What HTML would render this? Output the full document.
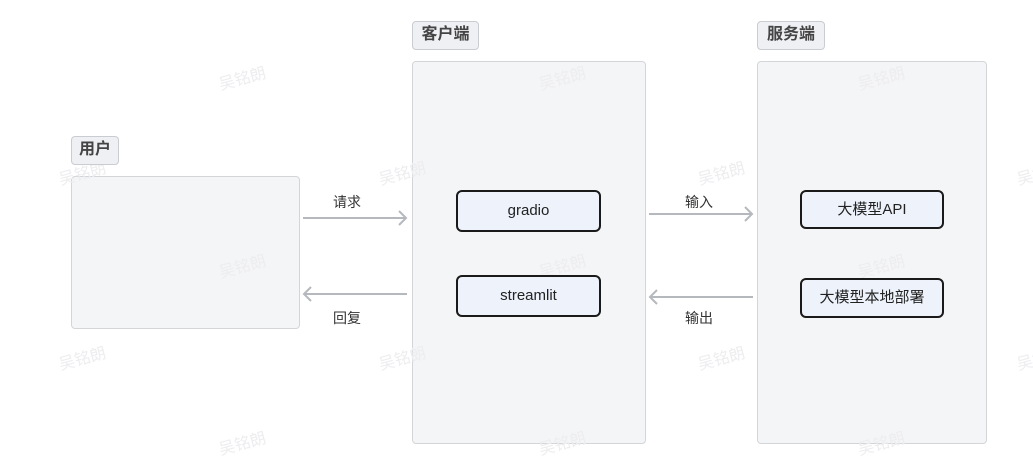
<!DOCTYPE html>
<html><head><meta charset="utf-8"><style>
body{margin:0;width:1033px;height:469px;background:#fff;position:relative;overflow:hidden;font-family:"Liberation Sans","Noto Sans CJK SC",sans-serif}
.abs{position:absolute;box-sizing:border-box}
.tag{background:#eef0f3;border:1.5px solid #c9ccd1;border-radius:4px;font-weight:bold;color:#444;font-size:16px;text-align:center;line-height:25px}
.grp{background:#f4f5f7;border:1.5px solid #d3d5d9;border-radius:4px}
.node{background:#eef2fb;border:2px solid #1a1a1a;border-radius:6px;text-align:center;font-size:15px;color:#222}
.lbl{font-size:14px;color:#333}
.wm{position:absolute;color:#ededf0;font-size:16px;transform:rotate(-15deg);white-space:nowrap}
</style></head><body>
<div class="abs grp" style="left:71px;top:176px;width:229px;height:153px"></div>
<div class="abs grp" style="left:412px;top:61px;width:234px;height:383px"></div>
<div class="abs grp" style="left:757px;top:61px;width:230px;height:383px"></div>
<div class="wm" style="left:218px;top:65px">吴铭朗</div>
<div class="wm" style="left:58px;top:160px">吴铭朗</div>
<div class="wm" style="left:218px;top:253px">吴铭朗</div>
<div class="wm" style="left:58px;top:345px">吴铭朗</div>
<div class="wm" style="left:218px;top:430px">吴铭朗</div>
<div class="wm" style="left:378px;top:160px">吴铭朗</div>
<div class="wm" style="left:378px;top:345px">吴铭朗</div>
<div class="wm" style="left:538px;top:65px">吴铭朗</div>
<div class="wm" style="left:538px;top:253px">吴铭朗</div>
<div class="wm" style="left:538px;top:430px">吴铭朗</div>
<div class="wm" style="left:697px;top:160px">吴铭朗</div>
<div class="wm" style="left:697px;top:345px">吴铭朗</div>
<div class="wm" style="left:857px;top:65px">吴铭朗</div>
<div class="wm" style="left:857px;top:253px">吴铭朗</div>
<div class="wm" style="left:857px;top:430px">吴铭朗</div>
<div class="wm" style="left:1016px;top:160px">吴铭朗</div>
<div class="wm" style="left:1016px;top:345px">吴铭朗</div>
<div class="abs tag" style="left:71px;top:136px;width:48px;height:29px">用户</div>
<div class="abs tag" style="left:412px;top:21px;width:67px;height:29px">客户端</div>
<div class="abs tag" style="left:757px;top:21px;width:68px;height:29px">服务端</div>
<div class="abs node" style="left:456px;top:190px;width:145px;height:42px;line-height:38px">gradio</div>
<div class="abs node" style="left:456px;top:275px;width:145px;height:42px;line-height:38px">streamlit</div>
<div class="abs node" style="left:800px;top:190px;width:144px;height:39px;line-height:35px">大模型API</div>
<div class="abs node" style="left:800px;top:278px;width:144px;height:40px;line-height:36px">大模型本地部署</div>
<svg class="abs" style="left:0;top:0" width="1033" height="469">
<g stroke="#b5b8bd" stroke-width="2" fill="none">
<line x1="303" y1="218" x2="406" y2="218"/><polyline points="399,211 406,218 399,225"/>
<line x1="304" y1="294" x2="407" y2="294"/><polyline points="311,287 304,294 311,301"/>
<line x1="649" y1="214" x2="752" y2="214"/><polyline points="745,207 752,214 745,221"/>
<line x1="650" y1="297" x2="753" y2="297"/><polyline points="657,290 650,297 657,304"/>
</g></svg>
<div class="abs lbl" style="left:333px;top:192px">请求</div>
<div class="abs lbl" style="left:333px;top:308px">回复</div>
<div class="abs lbl" style="left:685px;top:192px">输入</div>
<div class="abs lbl" style="left:685px;top:308px">输出</div>
</body></html>
